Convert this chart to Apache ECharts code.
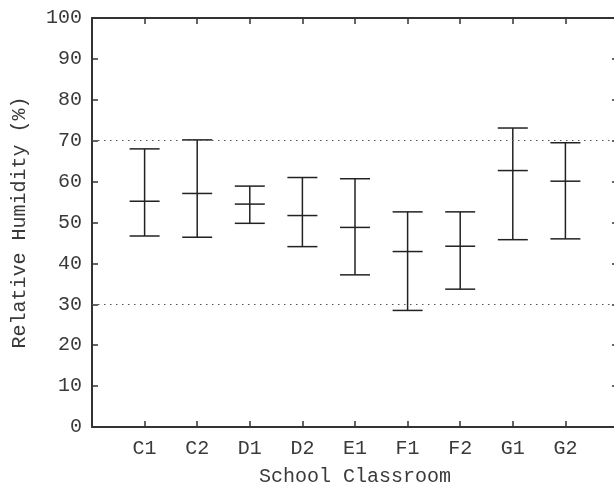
<!DOCTYPE html>
<html>
<head>
<meta charset="utf-8">
<script src="https://cdn.jsdelivr.net/npm/echarts@6/dist/echarts.min.js"></script>
<style>
  html, body { margin: 0; padding: 0; background: #fff; }
  #chart { width: 614px; height: 493px; }
</style>
</head>
<body>
<div id="chart"></div>
<script>
// classrooms and humidity readings (min / mean / max)
var rooms = ['C1', 'C2', 'D1', 'D2', 'E1', 'F1', 'F2', 'G1', 'G2'];
var lowVals = [46.7, 46.4, 49.8, 44.1, 37.2, 28.5, 33.7, 45.8, 46.0];
var meanVals = [55.2, 57.1, 54.5, 51.7, 48.8, 42.9, 44.2, 62.7, 60.1];
var highVals = [68.0, 70.2, 58.9, 61.0, 60.7, 52.6, 52.6, 73.1, 69.5];
var limitLines = [30, 70];

var font = 'Liberation Mono';
var ink = '#222';

var barData = [];
for (var i = 0; i < rooms.length; i++) {
    barData.push([i + 1, lowVals[i], meanVals[i], highVals[i]]);
}

function renderBar(params, api) {
    var x = api.value(0);
    var lo = api.coord([x, api.value(1)]);
    var mid = api.coord([x, api.value(2)]);
    var hi = api.coord([x, api.value(3)]);
    var w = 15;
    var st = { stroke: ink, lineWidth: 1.5 };
    return {
        type: 'group',
        children: [
            { type: 'line', shape: { x1: lo[0], y1: lo[1], x2: hi[0], y2: hi[1] }, style: st },
            { type: 'line', shape: { x1: lo[0] - w, y1: lo[1], x2: lo[0] + w, y2: lo[1] }, style: st },
            { type: 'line', shape: { x1: mid[0] - w, y1: mid[1], x2: mid[0] + w, y2: mid[1] }, style: st },
            { type: 'line', shape: { x1: hi[0] - w, y1: hi[1], x2: hi[0] + w, y2: hi[1] }, style: st }
        ]
    };
}

var chart = echarts.init(document.getElementById('chart'));

var axisLine = { show: true, onZero: false, lineStyle: { color: '#333', width: 2 } };
var tick = { show: true, inside: true, length: 6, lineStyle: { color: '#333', width: 1.5 } };

chart.setOption({
    animation: false,
    grid: { left: 92, top: 18, width: 526, height: 409, outerBoundsMode: 'none', containLabel: false },
    xAxis: [{
        type: 'value',
        min: 0, max: 10, interval: 1,
        position: 'bottom',
        name: 'School Classroom',
        nameLocation: 'middle',
        nameGap: 40,
        nameTextStyle: { fontFamily: font, fontSize: 20, color: '#3a3a3a' },
        axisLine: axisLine,
        axisTick: tick,
        splitLine: { show: false },
        axisLabel: {
            margin: 12,
            fontFamily: font, fontSize: 20, color: '#3a3a3a',
            formatter: function (v) { return rooms[v - 1] || ''; }
        }
    }, {
        type: 'value',
        min: 0, max: 10, interval: 1,
        position: 'top',
        axisLine: axisLine,
        axisTick: tick,
        splitLine: { show: false },
        axisLabel: { show: false }
    }],
    yAxis: [{
        type: 'value',
        min: 0, max: 100, interval: 10,
        position: 'left',
        name: 'Relative Humidity (%)',
        nameLocation: 'middle',
        nameGap: 62,
        nameTextStyle: { fontFamily: font, fontSize: 20, color: '#3a3a3a' },
        axisLine: axisLine,
        axisTick: tick,
        splitLine: { show: false },
        axisLabel: { margin: 10, fontFamily: font, fontSize: 20, color: '#3a3a3a' }
    }, {
        type: 'value',
        min: 0, max: 100, interval: 10,
        position: 'right',
        axisLine: axisLine,
        axisTick: tick,
        splitLine: { show: false },
        axisLabel: { show: false }
    }],
    series: [{
        type: 'custom',
        renderItem: renderBar,
        data: barData,
        encode: { x: 0, y: [1, 2, 3] },
        markLine: {
            silent: true,
            symbol: 'none',
            label: { show: false },
            lineStyle: { color: '#555', width: 1, type: [1.5, 4.5] },
            data: limitLines.map(function (v) { return { yAxis: v }; })
        }
    }]
});
</script>
</body>
</html>
